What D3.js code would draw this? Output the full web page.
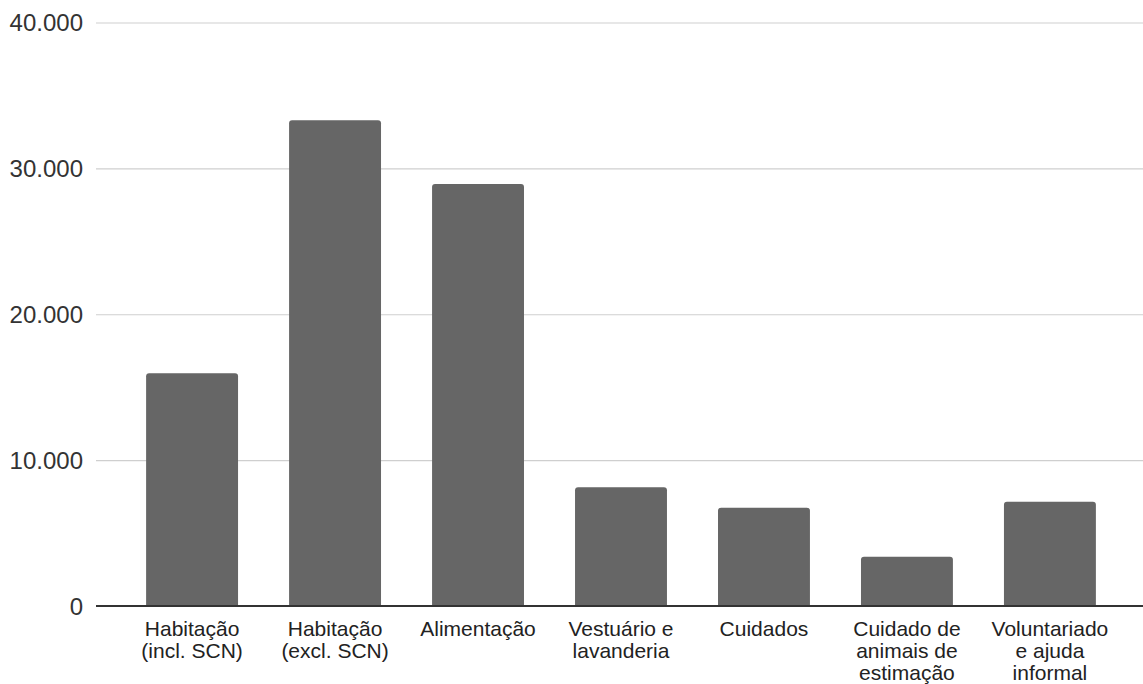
<!DOCTYPE html>
<html>
<head>
<meta charset="utf-8">
<script src="https://cdn.jsdelivr.net/npm/d3@7"></script>
<style>
  html, body { margin: 0; padding: 0; background: #fff; }
  svg { display: block; font-family: "Liberation Sans", Arial, sans-serif; }
</style>
</head>
<body>
<svg id="chart" width="1143" height="684"></svg>
<script>
/* Bar chart: valor por categoria de trabalho doméstico */

const categories = [
  "Habitação (incl. SCN)",
  "Habitação (excl. SCN)",
  "Alimentação",
  "Vestuário e lavanderia",
  "Cuidados",
  "Cuidado de animais de estimação",
  "Voluntariado e ajuda informal",
];
const values = [15950, 33300, 28930, 8140, 6740, 3380, 7150];
const yTicks = [0, 10000, 20000, 30000, 40000];

const W = 1143, H = 684;
const margin = { top: 22.5, right: 0, bottom: 78, left: 96 };

const svg = d3.select("#chart");

const x = d3.scaleBand()
  .domain(categories)
  .range([margin.left + 1.5, W + 1.5])
  .paddingInner(0.357)
  .paddingOuter(0.34);

const y = d3.scaleLinear()
  .domain([0, 40000])
  .range([H - margin.bottom, margin.top]);

const fmt = (v) => d3.format(",")(v).replace(/,/g, ".");

// gridlines + tick labels
const yAxis = d3.axisLeft(y)
  .tickValues(yTicks)
  .tickFormat(fmt)
  .tickSize(-(W - margin.left - margin.right))
  .tickPadding(13);

const gy = svg.append("g")
  .attr("transform", `translate(${margin.left},0)`)
  .call(yAxis);
gy.select(".domain").remove();
gy.selectAll(".tick line").attr("stroke", "#cfcfcf").attr("stroke-width", 1.2);
gy.selectAll(".tick text")
  .attr("fill", "#333")
  .style("font-size", "24px")
  .attr("dy", "0.34em");

// bars with rounded tops
svg.append("g")
  .selectAll("path")
  .data(categories)
  .join("path")
  .attr("fill", "#666666")
  .attr("d", (c, i) => {
    const x0 = x(c), w = x.bandwidth();
    const yt = y(values[i]), yb = y(0), r = 3;
    return `M${x0},${yb}V${yt + r}Q${x0},${yt} ${x0 + r},${yt}` +
      `H${x0 + w - r}Q${x0 + w},${yt} ${x0 + w},${yt + r}V${yb}Z`;
  });

// baseline
svg.append("line")
  .attr("x1", margin.left).attr("x2", W)
  .attr("y1", y(0)).attr("y2", y(0))
  .attr("stroke", "#333").attr("stroke-width", 2);

// category labels, wrapped
const labelSize = 21;
const maxWidth = 130;
const gx = svg.append("g");
categories.forEach((c) => {
  const cx = x(c) + x.bandwidth() / 2;
  const t = gx.append("text")
    .attr("x", cx)
    .attr("y", y(0) + 30)
    .attr("text-anchor", "middle")
    .attr("fill", "#222")
    .style("font-size", labelSize + "px");
  const words = c.split(" ");
  let line = [];
  let tspan = t.append("tspan").attr("x", cx).attr("dy", 0);
  words.forEach((w) => {
    line.push(w);
    tspan.text(line.join(" "));
    if (tspan.node().getComputedTextLength() > maxWidth && line.length > 1) {
      line.pop();
      tspan.text(line.join(" "));
      line = [w];
      tspan = t.append("tspan")
        .attr("x", cx)
        .attr("dy", 22)
        .text(w);
    }
  });
});
</script>
</body>
</html>
